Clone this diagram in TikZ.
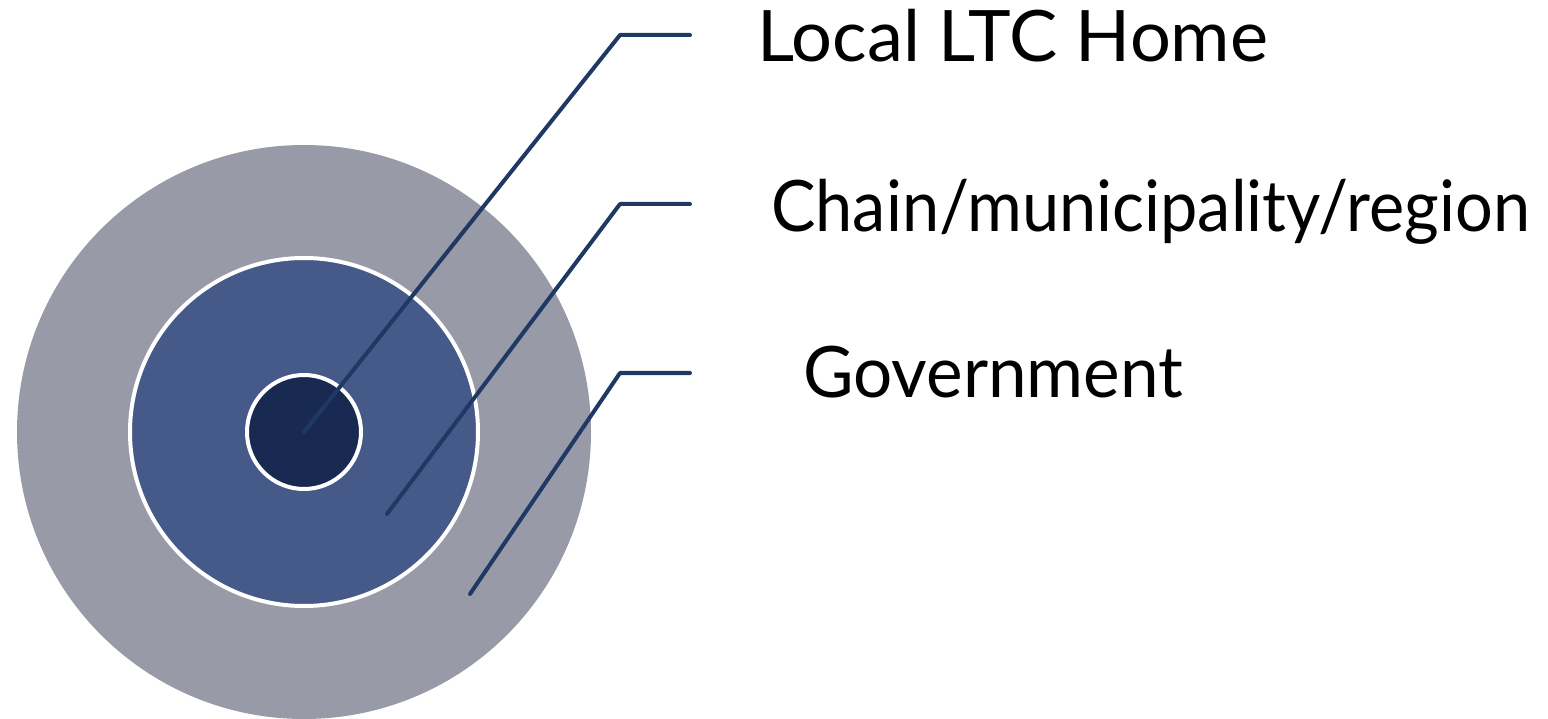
\documentclass[tikz,border=0pt]{standalone}
\usepackage{fontspec}
\setmainfont{Lato}
\begin{document}
\begin{tikzpicture}[x=1pt,y=-1pt,
  lead/.style={draw=lineblue,line width=4pt,line cap=round,line join=round},
  lbl/.style={anchor=base west,inner sep=0pt,font=\fontsize{71}{80}\selectfont,text=black}]
\definecolor{outergray}{RGB}{152,154,168}
\definecolor{midblue}{RGB}{70,90,138}
\definecolor{innerblue}{RGB}{24,41,82}
\definecolor{lineblue}{RGB}{31,56,100}
\useasboundingbox (0,0) rectangle (1548,719);
\fill[outergray] (304,432) circle[radius=287];
\filldraw[fill=midblue,draw=white,line width=4pt] (304,432) circle[radius=174];
\filldraw[fill=innerblue,draw=white,line width=4pt] (304,432) circle[radius=57];
\coordinate (c1) at (304,432);
\coordinate (c2) at (387,514);
\coordinate (c3) at (470,594);
\coordinate (k1) at (620,35);
\coordinate (k2) at (620,204);
\coordinate (k3) at (620,373);
\coordinate (e1) at (690,35);
\coordinate (e2) at (690,204);
\coordinate (e3) at (690,373);
\draw[lead] (c1) -- (k1) -- (e1);
\draw[lead] (c2) -- (k2) -- (e2);
\draw[lead] (c3) -- (k3) -- (e3);
\node[lbl] (t1) at (757,62) {\resizebox{511pt}{\height}{Local LTC Home}};
\node[lbl] (t2) at (771,232) {\resizebox{759pt}{\height}{Chain/municipality/region}};
\node[lbl] (t3) at (803,398) {\resizebox{380pt}{\height}{Government}};
\end{tikzpicture}
\end{document}
